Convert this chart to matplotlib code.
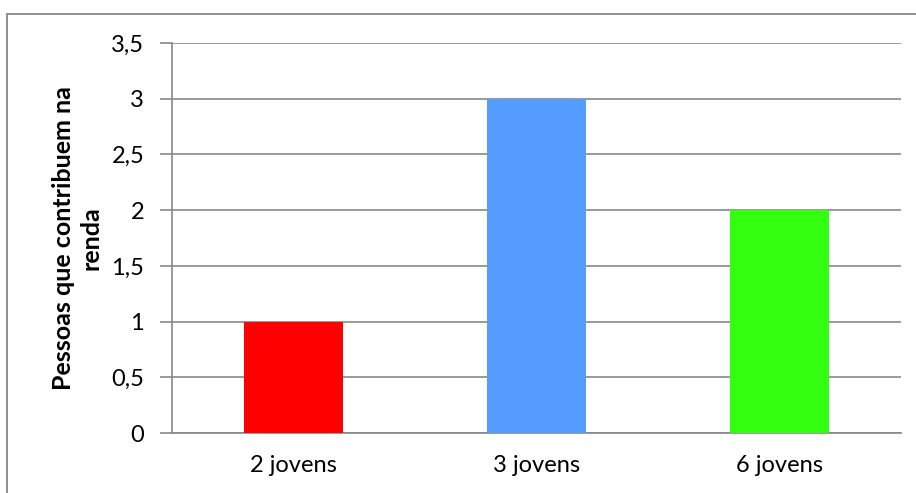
import matplotlib.pyplot as plt
from matplotlib.patches import Rectangle

# dados
categorias = ["2 jovens", "3 jovens", "6 jovens"]
valores = [1, 3, 2]
cores = ["#FF0000", "#559CFF", "#33FF11"]
ticks_y = [0, 0.5, 1, 1.5, 2, 2.5, 3, 3.5]
rotulos_y = ["0", "0,5", "1", "1,5", "2", "2,5", "3", "3,5"]

plt.rcParams["font.family"] = ["Lato", "DejaVu Sans"]

fig = plt.figure(figsize=(9.16, 4.93), dpi=100)
ax = fig.add_axes([172 / 916, 1 - 433 / 493, (901 - 172) / 916, (433 - 43) / 493])

# borda externa do grafico
fig.patches.append(Rectangle((7 / 916, -0.1), 1.0, 1 - 14 / 493 + 0.1,
                             transform=fig.transFigure, fill=False,
                             edgecolor="#878787", linewidth=1.3))

x = range(len(categorias))
ax.bar(x, valores, width=0.405, color=cores, zorder=3)

ax.set_xlim(-0.5, 2.5)
ax.set_ylim(0, 3.5)
ax.set_yticks(ticks_y)
ax.set_yticklabels(rotulos_y, fontsize=17)
ax.set_xticks(list(x))
ax.set_xticklabels(categorias, fontsize=17)
ax.tick_params(axis="x", length=0, pad=16)
ax.tick_params(axis="y", length=9, width=1.2, color="#878787", pad=11)

ax.grid(axis="y", color="#878787", linewidth=1.2, zorder=0)
for lado in ["top", "right"]:
    ax.spines[lado].set_visible(False)
ax.spines["left"].set_color("#878787")
ax.spines["bottom"].set_color("#878787")
ax.spines["left"].set_linewidth(1.2)
ax.spines["bottom"].set_linewidth(1.2)

fig.text(77 / 916, 1 - 238 / 493, "Pessoas que contribuem na\nrenda",
         rotation=90, ha="center", va="center", multialignment="center",
         fontsize=18, fontweight="bold", linespacing=1.25)

fig.savefig("out.png", dpi=100)
